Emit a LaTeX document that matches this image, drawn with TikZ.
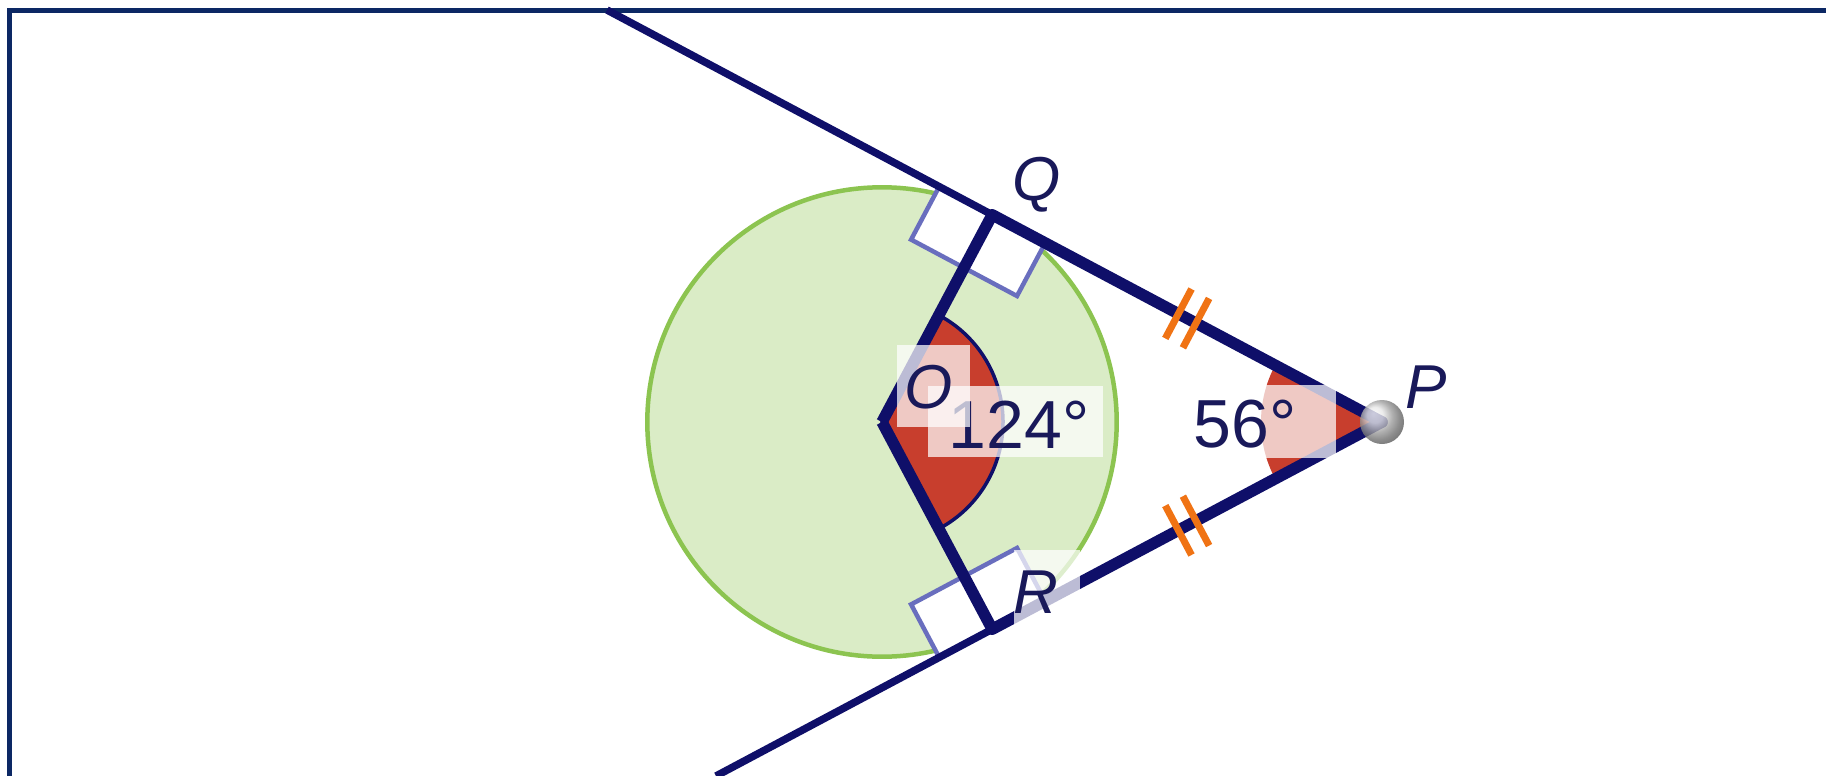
\documentclass[tikz,border=0pt]{standalone}
\usepackage{fontspec}
\setmainfont{Liberation Sans}
\usetikzlibrary{calc}
\definecolor{navy}{RGB}{15,15,105}
\definecolor{framecol}{RGB}{12,40,100}
\definecolor{circfill}{RGB}{218,236,198}
\definecolor{circline}{RGB}{140,196,80}
\definecolor{anglered}{RGB}{200,62,45}
\definecolor{sqcol}{RGB}{105,110,190}
\definecolor{tickcol}{RGB}{240,115,20}
\definecolor{textcol}{RGB}{25,25,90}
\tikzset{
  ray/.style={draw=navy, line width=7.5pt},
  seg/.style={draw=navy, line width=11.5pt},
  rightsq/.style={draw=sqcol, line width=4.5pt, fill=white, line join=miter},
  tickmark/.style={draw=tickcol, line width=7pt},
  lblbox/.style={fill=white, fill opacity=0.72, draw=none},
  ptlabel/.style={text=textcol, font=\fontsize{62pt}{64pt}\selectfont\itshape, inner sep=0pt, anchor=base},
  anglelabel/.style={text=textcol, font=\fontsize{68pt}{70pt}\selectfont, inner sep=0pt, anchor=base},
}
\begin{document}
\begin{tikzpicture}[x=1pt, y=-1pt]
\useasboundingbox (0,0) rectangle (1826,776);
\fill[white] (0,0) rectangle (1826,776);
% frame
\fill[framecol] (7,8) rectangle (1826,13);
\fill[framecol] (7,8) rectangle (12,776);
% points
\coordinate (O) at (882,422);
\coordinate (P) at (1382,422);
\coordinate (Q) at (992.2,214.8);
\coordinate (R) at (992.2,629.2);
\coordinate (T1) at (607,10);
\coordinate (T2) at (716,776);
% circle
\draw[fill=circfill, draw=circline, line width=4.5pt] (O) circle[radius=234.7];
% right-angle squares
\draw[rightsq] (Q) -- (939.2,186.6) -- (911.1,239.6) -- (964.0,267.8) -- cycle;
\draw[rightsq] (Q) -- (1045.2,243.0) -- (1017.0,296.0) -- (964.0,267.8) -- cycle;
\draw[rightsq] (R) -- (939.2,657.4) -- (911.1,604.4) -- (964.0,576.2) -- cycle;
\draw[rightsq] (R) -- (1045.2,601.0) -- (1017.0,548.0) -- (964.0,576.2) -- cycle;
% angle sectors
\draw[fill=anglered, draw=navy, line width=3.5pt] (O) -- ++(-62:121) arc[start angle=-62, end angle=62, radius=121] -- cycle;
\fill[anglered] (P) -- ++(152:121) arc[start angle=152, end angle=208, radius=121] -- cycle;
% lines
\draw[ray] (T1) -- (Q);
\draw[ray] (T2) -- (R);
\draw[seg, line cap=round] (Q) -- (P);
\draw[seg, line cap=round] (R) -- (P);
\draw[seg] (O) -- (Q);
\draw[seg] (O) -- (R);
% equal-length ticks
\draw[tickmark] (1191.5,289.0) -- (1165.3,338.4);
\draw[tickmark] (1209.1,298.4) -- (1182.9,347.8);
\draw[tickmark] (1191.5,555.0) -- (1165.3,505.6);
\draw[tickmark] (1209.1,545.6) -- (1182.9,496.2);
% angle labels
\fill[lblbox] (928,386) rectangle (1103,457);
\node[anglelabel] (a124) at (1019,448) {124°};
\fill[lblbox] (1180,385) rectangle (1336,458);
\node[anglelabel] (a56) at (1245,447) {56°};
% point labels
\fill[lblbox] (897,345) rectangle (970,427);
\node[ptlabel] (lO) at (929,408) {O};
\node[ptlabel] (lQ) at (1037,200) {Q};
\node[ptlabel] (lP) at (1426,408) {P};
\fill[lblbox] (1014,550) rectangle (1080,627);
\node[ptlabel] (lR) at (1036,613) {R};
% point P
\shade[ball color=black!12, opacity=0.8] (P) circle[radius=22];
\end{tikzpicture}
\end{document}
